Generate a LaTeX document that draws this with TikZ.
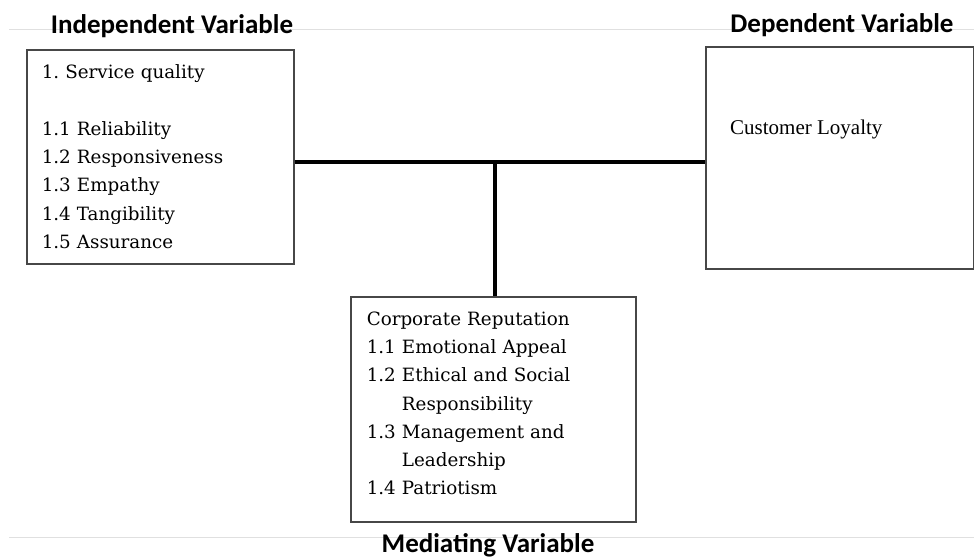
\documentclass[tikz,border=0pt]{standalone}
\usepackage{fontspec}
\setmainfont{DejaVu Serif}
\newfontfamily\headfont{Carlito}
\newfontfamily\timesfont{Liberation Serif}
\usetikzlibrary{positioning,calc}
\frenchspacing

\begin{document}
\begin{tikzpicture}[
    x=1pt, y=-1pt,
    box/.style={draw=black!72, line width=1.5pt, inner ysep=0, anchor=north west},
    items/.style={align=left, font=\fontsize{18.3}{28.3}\selectfont},
    head/.style={font=\headfont\bfseries\fontsize{27}{30}\selectfont, anchor=base, inner sep=0},
    link/.style={line width=4pt},
    rule/.style={draw=black!12, line width=1pt}]

\useasboundingbox (0,0) rectangle (974,558);

% faint page rules
\draw[rule] (9,29) -- (974,29);
\draw[rule] (9,537) -- (974,537);

% boxes
\node[box, items, inner xsep=15pt, text width=237pt, minimum height=214pt] (iv) at (26,49) {%
    1. Service quality\\[28.3pt]
    1.1 Reliability\\
    1.2 Responsiveness\\
    1.3 Empathy\\
    1.4 Tangibility\\
    1.5 Assurance};
\node[box, minimum width=268pt, minimum height=222pt] (dv) at (705,46) {};
\node[font=\timesfont\fontsize{21}{25}\selectfont, anchor=base west, inner sep=0] (cl)
    at ($(dv.north west)+(25,88)$) {Customer Loyalty};
\node[box, items, inner xsep=16pt, text width=253pt, minimum height=225pt] (mv) at (350,296) {%
    Corporate Reputation\\
    1.1 Emotional Appeal\\
    1.2 Ethical and Social\\
    \hphantom{1.2}\ Responsibility\\
    1.3 Management and\\
    \hphantom{1.3}\ Leadership\\
    1.4 Patriotism\rule[-12pt]{0pt}{12pt}};

% titles
\node[head] (ivt) at (172,33) {Independent Variable};
\node[head] (dvt) at (842,32) {Dependent Variable};
\node[head] (mvt) at (488,552) {Mediating Variable};

% links
\coordinate (j) at (495,162);
\draw[link] (iv.east |- j) -- (dv.west |- j);
\draw[link] (j) -- (j |- mv.north);

\end{tikzpicture}
\end{document}
